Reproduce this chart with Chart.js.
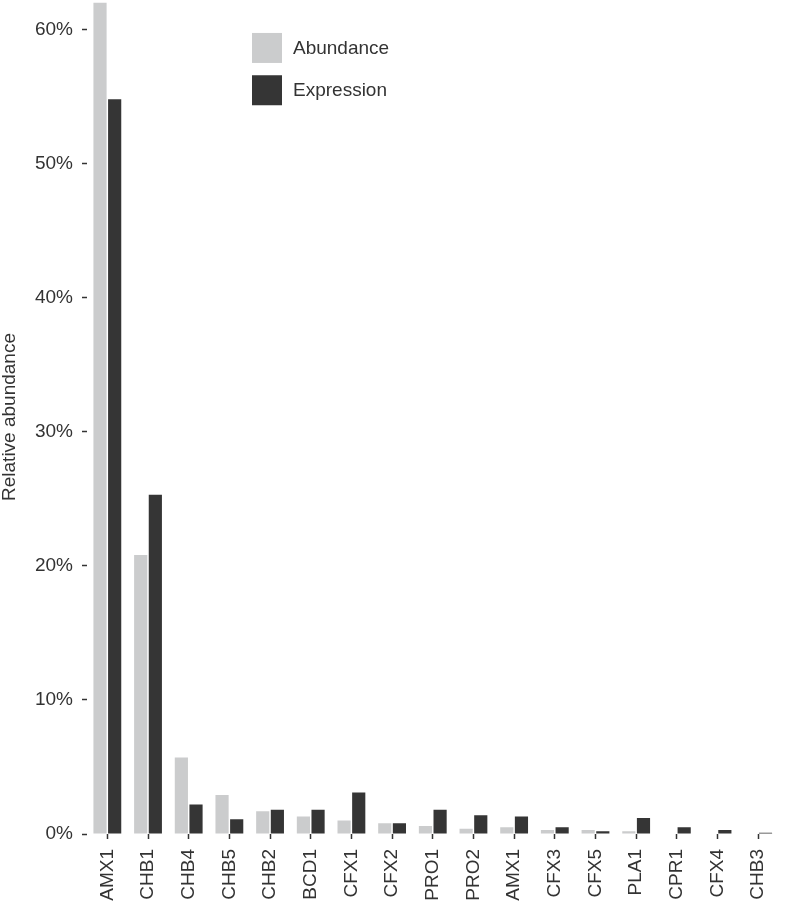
<!DOCTYPE html>
<html>
<head>
<meta charset="utf-8">
<script src="https://cdn.jsdelivr.net/npm/chart.js@4"></script>
<style>
  html, body { margin: 0; padding: 0; background: #fff; overflow: hidden; }
  #wrap { position: relative; width: 791px; height: 912px; margin-top: -10px; }
</style>
</head>
<body>
<div id="wrap"><canvas id="myChart"></canvas></div>
<script>
const categories = ["AMX1", "CHB1", "CHB4", "CHB5", "CHB2", "BCD1", "CFX1", "CFX2", "PRO1",
  "PRO2", "AMX1", "CFX3", "CFX5", "PLA1", "CPR1", "CFX4", "CHB3"];
const abundance = [62.0, 20.8, 5.7, 2.9, 1.7, 1.3, 1.0, 0.8, 0.6, 0.4, 0.5, 0.3, 0.3, 0.2, 0, 0, 0];
const expression = [54.8, 25.3, 2.2, 1.1, 1.8, 1.8, 3.1, 0.8, 1.8, 1.4, 1.3, 0.5, 0.2, 1.2, 0.5, 0.3, 0.1];
const yTicks = [0, 10, 20, 30, 40, 50, 60];

Chart.defaults.font.family = '"Liberation Sans", Arial, sans-serif';
Chart.defaults.color = "#333";

// legend drawn inside the plot, squares + labels
const boxLegend = {
  id: "boxLegend",
  afterDraw(chart) {
    const ctx = chart.ctx;
    const area = chart.chartArea;
    const x = area.left + 165;
    ctx.save();
    ctx.font = '19px "Liberation Sans", Arial, sans-serif';
    ctx.textBaseline = "middle";
    chart.data.datasets.forEach((ds, i) => {
      const y = area.top + 33 + i * 42.3;
      ctx.fillStyle = ds.backgroundColor;
      ctx.fillRect(x, y, 30, 30);
      ctx.fillStyle = "#333";
      ctx.fillText(ds.label, x + 41, y + 16);
    });
    ctx.restore();
  },
};

const tickGrid = {
  offset: false,
  drawOnChartArea: false,
  drawTicks: true,
  tickLength: 5,
  tickWidth: 1.5,
  tickColor: "#333",
};

const ctx = document.getElementById("myChart").getContext("2d");
const myChart = new Chart(ctx, {
  type: "bar",
  data: {
    labels: categories,
    datasets: [
      {
        label: "Abundance",
        data: abundance,
        backgroundColor: "#cbcccd",
        categoryPercentage: 0.72,
        barPercentage: 0.9,
      },
      {
        label: "Expression",
        data: expression,
        backgroundColor: "#353535",
        categoryPercentage: 0.72,
        barPercentage: 0.9,
      },
    ],
  },
  options: {
    responsive: true,
    maintainAspectRatio: false,
    animation: false,
    layout: { padding: 0 },
    plugins: {
      legend: { display: false },
      tooltip: { enabled: false },
    },
    scales: {
      x: {
        grid: tickGrid,
        border: { display: false },
        ticks: {
          autoSkip: false,
          minRotation: 90,
          maxRotation: 90,
          padding: 10,
          font: { size: 19 },
        },
        afterFit: (s) => { s.height = 68; },
      },
      y: {
        min: 0,
        max: 62.2,
        grid: tickGrid,
        border: { display: false },
        afterBuildTicks: (s) => { s.ticks = yTicks.map((v) => ({ value: v })); },
        ticks: {
          padding: 9,
          font: { size: 19, lineHeight: 0.1 },
          callback: (v) => v + "%",
        },
        title: {
          display: true,
          text: "Relative abundance",
          font: { size: 19, lineHeight: 1.05 },
          padding: 0,
        },
        afterFit: (s) => { s.width = 87; },
      },
    },
  },
  plugins: [boxLegend],
});
</script>
</body>
</html>
